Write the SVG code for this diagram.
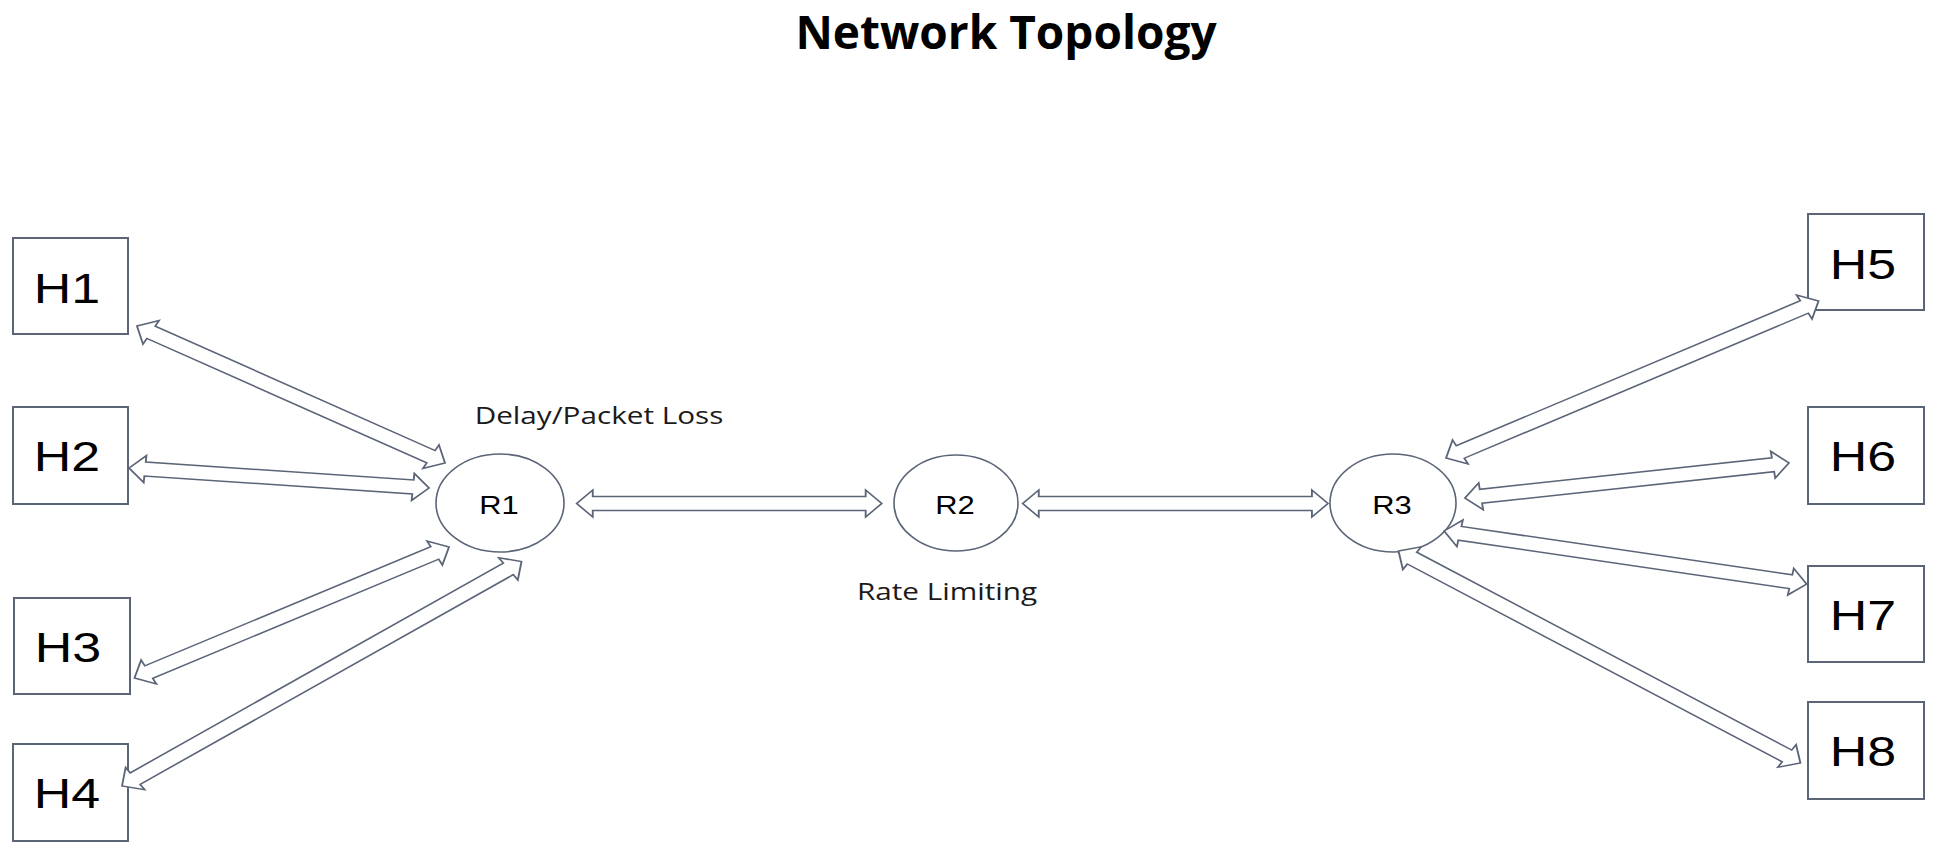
<svg xmlns="http://www.w3.org/2000/svg" width="1940" height="860" viewBox="0 0 1940 860">
<style>
.box{fill:#ffffff;stroke:#5b6577;stroke-width:2}
.rt{fill:#ffffff;stroke:#5b6577;stroke-width:1.6}
.arr{fill:#ffffff;stroke:#5b6577;stroke-width:1.5;stroke-linejoin:miter}
.hl{font-family:"Liberation Sans",Arial,sans-serif;font-size:42px;fill:#000;text-anchor:middle}
.rl{font-family:"Liberation Sans",Arial,sans-serif;font-size:25px;fill:#000;text-anchor:middle}
.lab{font-family:"Open Sans","Noto Sans",sans-serif;font-size:24px;fill:#1a1a1a;text-anchor:middle}
.title{font-family:"Open Sans","Noto Sans",sans-serif;font-size:46px;font-weight:bold;fill:#000;text-anchor:middle}
</style>
<rect width="1940" height="860" fill="#ffffff"/>
<text class="title" x="1006" y="49">Network Topology</text>

<g id="H1"><rect class="box" x="13" y="238" width="115" height="96"/><text class="hl" transform="translate(67,303) scale(1.2372,1)">H1</text></g>
<g id="H2"><rect class="box" x="13" y="407" width="115" height="97"/><text class="hl" transform="translate(67,471) scale(1.2372,1)">H2</text></g>
<g id="H3"><rect class="box" x="14" y="598" width="116" height="96"/><text class="hl" transform="translate(68,662) scale(1.2372,1)">H3</text></g>
<g id="H4"><rect class="box" x="13" y="744" width="115" height="97"/><text class="hl" transform="translate(67,808) scale(1.2372,1)">H4</text></g>
<g id="H5"><rect class="box" x="1808" y="214" width="116" height="96"/><text class="hl" transform="translate(1863,279) scale(1.2372,1)">H5</text></g>
<g id="H6"><rect class="box" x="1808" y="407" width="116" height="97"/><text class="hl" transform="translate(1863,471) scale(1.2372,1)">H6</text></g>
<g id="H7"><rect class="box" x="1808" y="566" width="116" height="96"/><text class="hl" transform="translate(1863,630) scale(1.2372,1)">H7</text></g>
<g id="H8"><rect class="box" x="1808" y="702" width="116" height="97"/><text class="hl" transform="translate(1863,766) scale(1.2372,1)">H8</text></g>

<g id="R1"><ellipse class="rt" cx="500" cy="503" rx="64" ry="49"/><text class="rl" transform="translate(499,514) scale(1.2372,1)">R1</text></g>
<g id="R2"><ellipse class="rt" cx="956" cy="503" rx="62" ry="48"/><text class="rl" transform="translate(955,514) scale(1.2372,1)">R2</text></g>
<g id="R3"><ellipse class="rt" cx="1393" cy="503" rx="63" ry="49"/><text class="rl" transform="translate(1392,514) scale(1.2372,1)">R3</text></g>

<g id="connectors" transform="scale(1.2372,1)">
  <g transform="translate(466.1,503.5)"><polygon class="arr" points="0,0 13,-13.5 13,-7 233.6,-7 233.6,-13.5 246.6,0 233.6,13.5 233.6,7 13,7 13,13.5"/></g>
  <g transform="translate(826.6,503.5)"><polygon class="arr" points="0,0 13,-13.5 13,-7 233.8,-7 233.8,-13.5 246.8,0 233.8,13.5 233.8,7 13,7 13,13.5"/></g>
  <g transform="translate(110.7,326) rotate(28.82)"><polygon class="arr" points="0,0 13,-13.5 13,-7 271.2,-7 271.2,-13.5 284.2,0 271.2,13.5 271.2,7 13,7 13,13.5"/></g>
  <g transform="translate(104.3,468) rotate(4.71)"><polygon class="arr" points="0,0 13,-13.5 13,-7 230.3,-7 230.3,-13.5 243.3,0 230.3,13.5 230.3,7 13,7 13,13.5"/></g>
  <g transform="translate(108.7,678) rotate(-27.26)"><polygon class="arr" points="0,0 13,-13.5 13,-7 273,-7 273,-13.5 286,0 273,13.5 273,7 13,7 13,13.5"/></g>
  <g transform="translate(98.6,786) rotate(-34.81)"><polygon class="arr" points="0,0 13,-13.5 13,-7 380.3,-7 380.3,-13.5 393.3,0 380.3,13.5 380.3,7 13,7 13,13.5"/></g>
  <g transform="translate(1168.8,458) rotate(-27.54)"><polygon class="arr" points="0,0 13,-13.5 13,-7 326.6,-7 326.6,-13.5 339.6,0 326.6,13.5 326.6,7 13,7 13,13.5"/></g>
  <g transform="translate(1184.1,498) rotate(-7.61)"><polygon class="arr" points="0,0 13,-13.5 13,-7 251.2,-7 251.2,-13.5 264.2,0 251.2,13.5 251.2,7 13,7 13,13.5"/></g>
  <g transform="translate(1167.2,531) rotate(10.25)"><polygon class="arr" points="0,0 13,-13.5 13,-7 284.8,-7 284.8,-13.5 297.8,0 284.8,13.5 284.8,7 13,7 13,13.5"/></g>
  <g transform="translate(1130.4,551) rotate(33.13)"><polygon class="arr" points="0,0 13,-13.5 13,-7 374.9,-7 374.9,-13.5 387.9,0 374.9,13.5 374.9,7 13,7 13,13.5"/></g>
</g>

<g id="labels">
<text class="lab" transform="translate(599,424) scale(1.2372,1)">Delay/Packet Loss</text>
<text class="lab" transform="translate(947,600) scale(1.2372,1)">Rate Limiting</text>
</g>
</svg>
